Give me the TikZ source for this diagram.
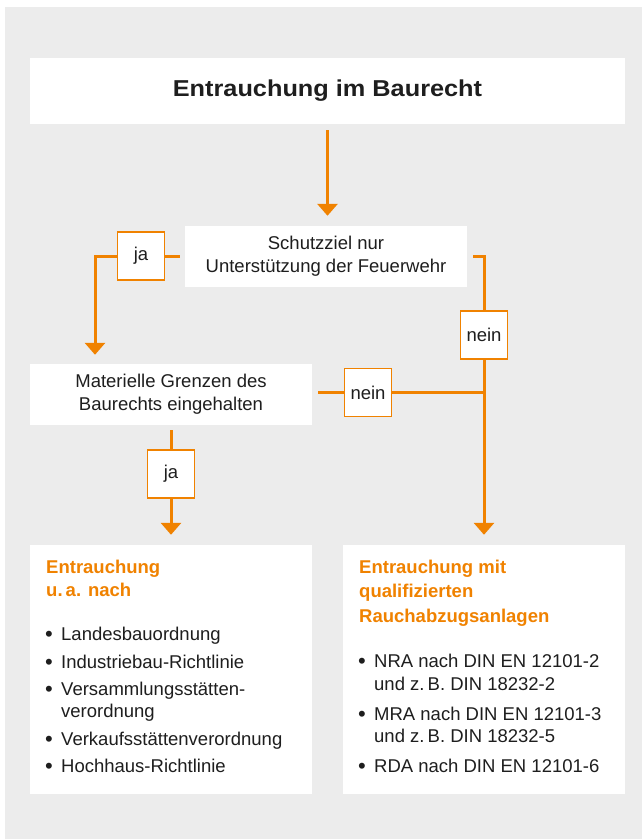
\documentclass[tikz,border=0pt]{standalone}
\usepackage{fontspec}
\setmainfont{Liberation Sans}
\usetikzlibrary{arrows.meta}
\definecolor{bgGray}{HTML}{ECECEC}
\definecolor{orng}{HTML}{F08200}
\definecolor{txt}{HTML}{1E1E1E}
\tikzset{
  mainbox/.style={fill=white, draw=none, inner sep=0pt, align=center, text=txt,
    font=\fontsize{18.5}{23}\selectfont},
  lbl/.style={fill=white, draw=orng, line width=1.5pt, minimum width=47pt, minimum height=48pt,
    inner sep=0pt, text=txt, font=\fontsize{18.5}{23}\selectfont},
  cline/.style={draw=orng, line width=3pt},
  carr/.style={cline, -{Triangle[width=20pt,length=12pt]}},
  itemtxt/.style={anchor=base west, inner sep=0pt, text=txt, font=\fontsize{18.5}{23}\selectfont},
  bul/.style={anchor=base west, inner sep=0pt, text=txt, font=\fontsize{22}{23}\selectfont, yshift=-1.5pt},
  headtxt/.style={anchor=base west, inner sep=0pt, text=orng, font=\fontsize{18.5}{23}\selectfont\bfseries},
}
\begin{document}
\begin{tikzpicture}[x=1pt,y=-1pt]
\useasboundingbox (0,0) rectangle (642,839);
\fill[bgGray] (5,7) rectangle (642,839);

% main boxes
\node[mainbox, minimum width=595pt, minimum height=66pt,
  font=\fontsize{23}{27}\selectfont\bfseries] (title) at (327.5,91) {\addfontfeature{FakeStretch=1.1}Entrauchung im Baurecht};
\node[mainbox, minimum width=282pt, minimum height=61pt] (schutz) at (326,256.5)
  {Schutzziel nur\\Unterstützung der Feuerwehr};
\node[mainbox, minimum width=282pt, minimum height=61pt] (mat) at (171,394.5)
  {Materielle Grenzen des\\Baurechts eingehalten};
\node[mainbox, minimum width=282pt, minimum height=249pt] (lbox) at (171,669.5) {};
\node[mainbox, minimum width=282pt, minimum height=249pt] (rbox) at (484,669.5) {};

% label boxes
\node[lbl] (ja1) at (141,256) {ja};
\node[lbl] (nein1) at (484,335) {nein};
\node[lbl] (nein2) at (368,392.5) {nein};
\node[lbl] (ja2) at (171,474) {ja};

\coordinate (jaL) at (95,256);

% connectors
\draw[carr, shorten <=6pt, shorten >=10pt] (title.south) -- (title.south |- schutz.north);
\draw[cline, shorten <=5pt] (schutz.west |- ja1) -- (ja1.east);
\draw[carr, shorten >=9pt] (ja1.west) -- (jaL) -- (jaL |- mat.north);
\draw[cline, shorten <=6pt] (schutz.east |- ja1) -| (nein1.north);
\draw[carr, shorten >=10pt] (nein1.south) -- (rbox.north);
\draw[cline, shorten <=6pt] (mat.east |- nein2) -- (nein2.west);
\draw[cline] (nein2.east) -- (nein2.east -| nein1.south);
\draw[cline, shorten <=5pt] (mat.south) -- (ja2.north);
\draw[carr, shorten >=10pt] (ja2.south) -- (lbox.north);

% left box contents
\node[headtxt] (lh1) at (46,573) {Entrauchung};
\node[headtxt] (lh2) at (46,596) {u.\,a. nach};
\foreach \y/\t [count=\i] in {640/Landesbauordnung, 668/Industriebau-Richtlinie, 695/Versammlungsstätten-, 745/Verkaufsstättenverordnung, 772/Hochhaus-Richtlinie}{
  \node[bul] (lb\i) at (45,\y) {•};
  \node[itemtxt] (lt\i) at (61,\y) {\t};
}
\node[itemtxt] (lt6) at (61,717) {verordnung};

% right box contents
\node[headtxt] (rh1) at (359,573) {Entrauchung mit};
\node[headtxt] (rh2) at (359,597) {qualifizierten};
\node[headtxt] (rh3) at (359,622) {Rauchabzugsanlagen};
\foreach \y/\t [count=\i] in {667/NRA nach DIN EN 12101-2, 720/MRA nach DIN EN 12101-3, 772/RDA nach DIN EN 12101-6}{
  \node[bul] (rb\i) at (358,\y) {•};
  \node[itemtxt] (rt\i) at (374,\y) {\t};
}
\node[itemtxt] (rt4) at (374,690) {und z.\,B. DIN 18232-2};
\node[itemtxt] (rt5) at (374,742) {und z.\,B. DIN 18232-5};
\end{tikzpicture}
\end{document}
